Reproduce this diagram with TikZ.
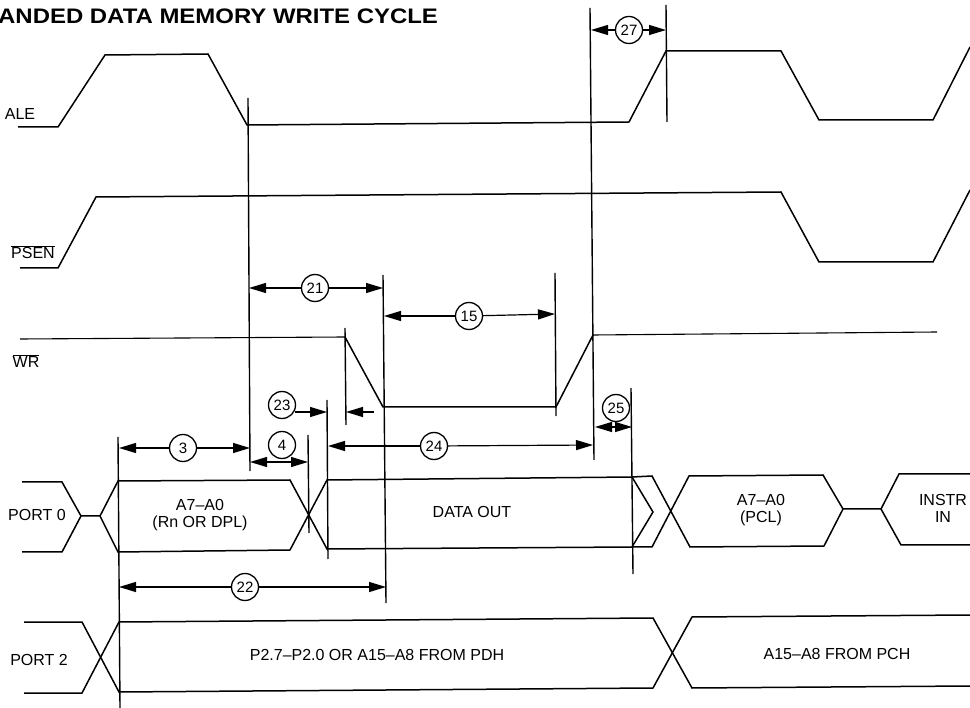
\documentclass[tikz,border=0pt]{standalone}
\usepackage{fontspec}
\setmainfont{Liberation Sans}
\usetikzlibrary{arrows.meta}
\tikzset{
  wave/.style={line width=1.5pt,line join=miter},
  thinwave/.style={line width=1.1pt},
  mark line/.style={line width=1.4pt},
  dimline/.style={line width=1.2pt,-{Triangle[length=17pt,width=10pt]}},
  tag/.style={circle,draw=black,line width=1.3pt,minimum size=27pt,inner sep=0pt,fill=white,font=\fontsize{15}{15}\selectfont},
  lab/.style={font=\fontsize{16}{17}\selectfont,inner sep=0pt,align=center},
}
\begin{document}
\begin{tikzpicture}[x=1pt,y=-1pt]
\useasboundingbox (0,0) rectangle (970,708);
\fill[white] (0,0) rectangle (970,708);
\node[anchor=base west,inner sep=0pt,font=\bfseries\fontsize{21}{22}\selectfont] (title) at (-2,24) {\scalebox{1.14}[1]{ANDED DATA MEMORY WRITE CYCLE}};

% signals
\draw[wave] (18,127) -- (58,127) -- (105,55) -- (208,54) -- (247,125) -- (629,122) -- (666,51) -- (781,51) -- (819,120) -- (933,120) -- (970,47);
\draw[wave] (20,268) -- (58,268) -- (96,197) -- (781,192) -- (819,262) -- (933,262) -- (970,190);
\draw[thinwave] (20,339) -- (345,337);
\draw[wave] (345,337) -- (383,407) -- (556,407) -- (593,335);
\draw[thinwave] (593,335) -- (937,332);

% port 0
\draw[wave] (22,482) -- (62,482) -- (81,516) -- (100,516) -- (118,481) -- (290,480) -- (327,549) -- (632,547) -- (652,547) -- (689,476) -- (823,475) -- (843,509) -- (881,509) -- (899,474) -- (970,474);
\draw[wave] (22,552) -- (62,552) -- (81,516);
\draw[wave] (100,516) -- (118,552) -- (290,550) -- (327,480) -- (632,477) -- (652,476) -- (690,547) -- (824,546) -- (843,509);
\draw[wave] (881,509) -- (901,545) -- (970,545);
\draw[wave] (632,477) -- (653,512) -- (632,547);

% port 2
\draw[wave] (24,622) -- (82,622) -- (119,692) -- (653,688) -- (692,617) -- (970,615);
\draw[wave] (24,693) -- (82,693) -- (119,622) -- (653,618) -- (692,688) -- (970,686);

% vertical reference lines
\draw[mark line] (248,98) -- (250,471);
\draw[mark line] (383,275) -- (386,603);
\draw[mark line] (555,273) -- (556,416);
\draw[mark line] (590,8) -- (594,460);
\draw[mark line] (666,5) -- (667,122);
\draw[mark line] (345,328) -- (346,425);
\draw[mark line] (327,400) -- (328,559);
\draw[mark line] (308,435) -- (309,533);
\draw[mark line] (631,388) -- (633,574);
\draw[mark line] (118,437) -- (120,708);

% timing tags
\node[tag] (t21) at (315,288) {21};
\node[tag] (t15) at (469,316) {15};
\node[tag] (t23) at (282,405) {23};
\node[tag] (t4)  at (282,445) {4};
\node[tag] (t24) at (434,446) {24};
\node[tag] (t25) at (616,408) {25};
\node[tag] (t3)  at (183,448) {3};
\node[tag] (t22) at (245,587) {22};
\node[tag] (t27) at (629,30) {27};

\coordinate (a21l) at (249,288); \coordinate (a21r) at (383,288);
\coordinate (a15l) at (384,316); \coordinate (a15r) at (555,314);
\coordinate (s23) at (295,412); \coordinate (a23) at (327,412);
\coordinate (b23a) at (374,412); \coordinate (b23b) at (346,412);
\coordinate (a4l) at (250,462); \coordinate (a4r) at (308,462); \coordinate (a4m) at (279,462);
\coordinate (a24l) at (328,446); \coordinate (a24r) at (593,445);
\coordinate (a25l) at (595,427); \coordinate (a25r) at (632,427); \coordinate (a25m) at (613,427);
\coordinate (a3l) at (119,448); \coordinate (a3r) at (250,448);
\coordinate (a22l) at (119,587); \coordinate (a22r) at (386,587);
\coordinate (a27l) at (591,30); \coordinate (a27r) at (666,30);

\draw[dimline] (t21) -- (a21l); \draw[dimline] (t21) -- (a21r);
\draw[dimline] (t15) -- (a15l); \draw[dimline] (t15) -- (a15r);
\draw[dimline] (s23) -- (a23);
\draw[dimline] (b23a) -- (b23b);
\draw[dimline] (a4m) -- (a4l); \draw[dimline] (a4m) -- (a4r);
\draw[dimline] (t24) -- (a24l); \draw[dimline] (t24) -- (a24r);
\draw[dimline] (a25m) -- (a25l); \draw[dimline] (a25m) -- (a25r);
\draw[dimline] (t3) -- (a3l); \draw[dimline] (t3) -- (a3r);
\draw[dimline] (t22) -- (a22l); \draw[dimline] (t22) -- (a22r);
\draw[dimline] (t27) -- (a27l); \draw[dimline] (t27) -- (a27r);

% labels
\node[lab] (lale) at (20,114) {ALE};
\node[lab] (lpsen) at (33,252) {$\overline{\mbox{PSEN}}$};
\node[lab] (lwr) at (26,361) {$\overline{\mbox{WR}}$};
\node[lab] (lp0) at (37,515) {PORT 0};
\node[lab] (lp2) at (39,660) {PORT 2};
\node[lab] (ta) at (200,515) {A7--A0\\(Rn OR DPL)};
\node[lab] (td) at (472,512) {DATA OUT};
\node[lab] (tp) at (761,510) {A7--A0\\(PCL)};
\node[lab] (ti) at (943,508) {INSTR\\IN};
\node[lab] (tb) at (377,655) {P2.7--P2.0 OR A15--A8 FROM PDH};
\node[lab] (tc) at (837,654) {A15--A8 FROM PCH};
\end{tikzpicture}
\end{document}
